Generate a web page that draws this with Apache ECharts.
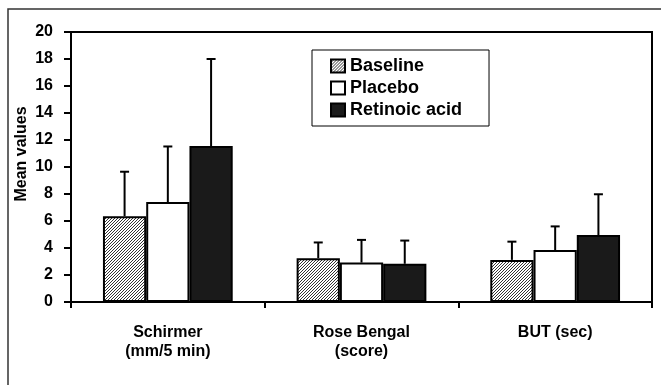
<!DOCTYPE html>
<html>
<head>
<meta charset="utf-8">
<script src="https://cdn.jsdelivr.net/npm/echarts@6/dist/echarts.min.js"></script>
<style>
  html, body { margin: 0; padding: 0; background: #fff; }
  #chart { width: 661px; height: 385px; }
</style>
</head>
<body>
<div id="chart"></div>
<script>
const categories = ['Schirmer\n(mm/5 min)', 'Rose Bengal\n(score)', 'BUT (sec)']
const seriesNames = ['Baseline', 'Placebo', 'Retinoic acid']
const baseline = [6.35, 3.25, 3.12]
const placebo = [7.4, 2.92, 3.85]
const retinoic = [11.55, 2.83, 4.96]
// upper error (SD)
const baselineErr = [3.3, 1.16, 1.35]
const placeboErr = [4.12, 1.68, 1.75]
const retinoicErr = [6.45, 1.72, 3.02]
const yTicks = [0, 2, 4, 6, 8, 10, 12, 14, 16, 18, 20]

const font = 'Liberation Sans, Arial, sans-serif'
const catGap = 0.33

// hatched fill for baseline
function hatch() {
  const c = document.createElement('canvas')
  c.width = 3
  c.height = 3
  const ctx = c.getContext('2d')
  ctx.fillStyle = '#fff'
  ctx.fillRect(0, 0, 3, 3)
  ctx.strokeStyle = '#333'
  ctx.lineWidth = 1
  ctx.beginPath()
  ctx.moveTo(0, 3); ctx.lineTo(3, 0)
  ctx.moveTo(-1, 1); ctx.lineTo(1, -1)
  ctx.moveTo(2, 4); ctx.lineTo(4, 2)
  ctx.stroke()
  return { image: c, repeat: 'repeat' }
}

const fills = [hatch(), '#fff', '#1a1a1a']
const values = [baseline, placebo, retinoic]
const errs = [baselineErr, placeboErr, retinoicErr]

function errorSeries(idx) {
  return {
    type: 'custom',
    name: seriesNames[idx] + ' err',
    data: values[idx].map((v, i) => [i, v, v + errs[idx][i]]),
    z: 1,
    silent: true,
    renderItem: function (params, api) {
      const band = api.size([1, 0])[0]
      const barW = band * (1 - catGap) / 3
      const off = (idx - 1) * barW
      const p0 = api.coord([api.value(0), api.value(1)])
      const p1 = api.coord([api.value(0), api.value(2)])
      const x = p0[0] + off
      const st = { stroke: '#000', lineWidth: 2 }
      return {
        type: 'group',
        children: [
          { type: 'line', shape: { x1: x, y1: p0[1], x2: x, y2: p1[1] }, style: st },
          { type: 'line', shape: { x1: x - 4.5, y1: p1[1], x2: x + 4.5, y2: p1[1] }, style: st }
        ]
      }
    }
  }
}

const barSeries = seriesNames.map((n, idx) => ({
  name: n,
  type: 'bar',
  data: values[idx],
  barGap: '0%',
  barCategoryGap: (catGap * 100) + '%',
  z: 2,
  itemStyle: { color: fills[idx], borderColor: '#000', borderWidth: 2 }
}))

const option = {
  animation: false,
  backgroundColor: '#fff',
  graphic: [{
    type: 'rect',
    shape: { x: 8, y: 9, width: 700, height: 420 },
    style: { fill: 'none', stroke: '#333', lineWidth: 1.5 },
    z: -10
  }],
  grid: {
    left: 71, right: 9, top: 32, bottom: 83,
    show: true, borderColor: '#000', borderWidth: 2, backgroundColor: 'transparent'
  },
  legend: {
    data: seriesNames.map(n => ({ name: n, icon: 'rect' })),
    orient: 'vertical',
    left: 312,
    top: 50,
    itemWidth: 14,
    itemHeight: 13,
    itemGap: 4,
    padding: [7, 27, 7, 18],
    borderColor: '#000',
    borderWidth: 1,
    textStyle: { fontFamily: font, fontWeight: 'bold', fontSize: 18, lineHeight: 18, color: '#000' }
  },
  xAxis: {
    type: 'category',
    data: categories,
    axisLine: { lineStyle: { color: '#000', width: 2 } },
    axisTick: { show: true, length: 6, lineStyle: { color: '#000', width: 2 } },
    axisLabel: { fontFamily: font, fontWeight: 'bold', fontSize: 16, color: '#000', margin: 21, lineHeight: 19 }
  },
  yAxis: {
    type: 'value',
    min: 0,
    max: 20,
    interval: 2,
    name: 'Mean values',
    nameLocation: 'middle',
    nameGap: 41,
    nameMoveOverlap: false,
    nameTextStyle: { fontFamily: font, fontWeight: 'bold', fontSize: 16, color: '#000', padding: [0, 0, 0, 26] },
    axisLine: { show: true, lineStyle: { color: '#000', width: 2 } },
    axisTick: { show: true, length: 7, lineStyle: { color: '#000', width: 2 } },
    splitLine: { show: false },
    axisLabel: {
      fontFamily: font, fontWeight: 'bold', fontSize: 16, color: '#000', margin: 18,
      formatter: v => (yTicks.indexOf(v) >= 0 ? String(v) : '')
    }
  },
  series: [...barSeries, errorSeries(0), errorSeries(1), errorSeries(2)]
}

const myChart = echarts.init(document.getElementById('chart'))
myChart.setOption(option)
</script>
</body>
</html>
